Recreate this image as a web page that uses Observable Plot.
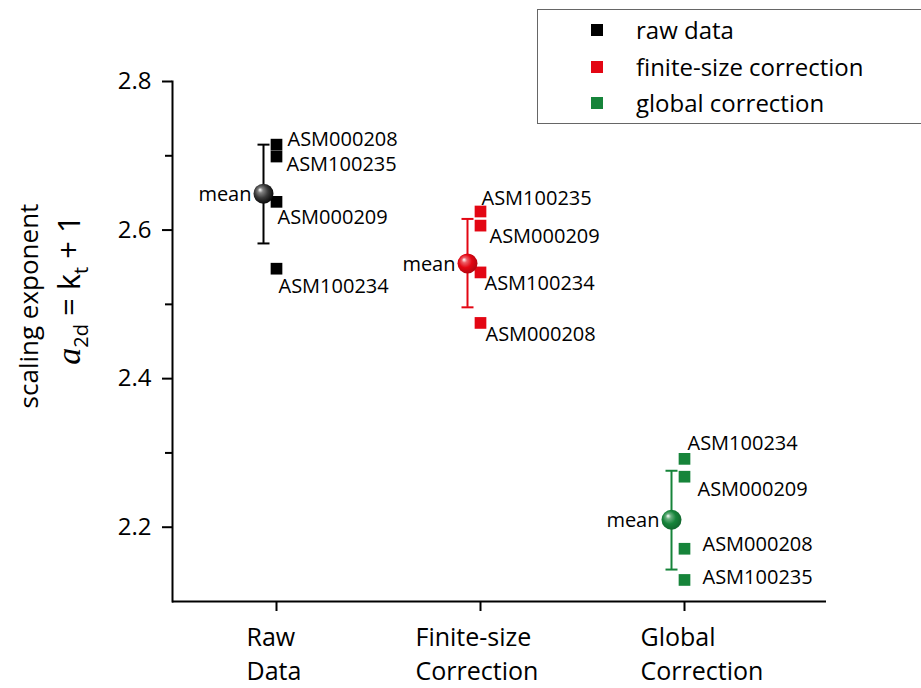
<!DOCTYPE html>
<html>
<head>
<meta charset="utf-8">
<script src="https://cdn.jsdelivr.net/npm/d3@7"></script>
<script src="https://cdn.jsdelivr.net/npm/@observablehq/plot@0.6"></script>
<style>
  html, body { margin: 0; padding: 0; background: #fff; }
  body { font-family: "Open Sans", sans-serif; }
  #wrap { position: relative; width: 921px; height: 688px; overflow: hidden; }
  #legend { position: absolute; left: 537px; top: 9px; width: 420px; height: 115px;
            border: 1.5px solid #666; border-right: none; box-sizing: border-box; background: #fff; }
  .item { position: absolute; left: 0; height: 36px; width: 400px; }
  .sw { position: absolute; left: 53px; width: 12px; height: 12px; top: 12px; }
  .lab { position: absolute; left: 98px; top: 0; line-height: 36px; font-size: 24px; color: #000; white-space: nowrap; }
</style>
</head>
<body>
<div id="wrap"></div>
<script>
// ---------- data ----------
const categories = ["Raw\nData", "Finite-size\nCorrection", "Global\nCorrection"];
const seriesNames = ["raw data", "finite-size correction", "global correction"];
const seriesColors = ["#000000", "#e30613", "#16843a"];

const rawIds = ["ASM000208", "ASM100235", "ASM000209", "ASM100234"];
const rawValues = [2.715, 2.699, 2.638, 2.548];

const finiteIds = ["ASM100235", "ASM000209", "ASM100234", "ASM000208"];
const finiteValues = [2.625, 2.606, 2.543, 2.475];

const globalIds = ["ASM100234", "ASM000209", "ASM000208", "ASM100235"];
const globalValues = [2.292, 2.268, 2.171, 2.129];

const meanValues = [2.649, 2.555, 2.210];
const errLower = [2.582, 2.496, 2.143];
const errUpper = [2.715, 2.615, 2.276];

const yMajorTicks = [2.2, 2.4, 2.6, 2.8];
const yMinorTicks = [2.3, 2.5, 2.7];
const yDomain = [2.1, 2.8];

// annotation layout: label offsets (px) from each square, and category label shifts
const labelOffsets = [
  [[11, -5], [10, 8], [1, 16], [2, 18]],
  [[1, -13], [9, 11], [4, 11], [5, 12]],
  [[3, -15], [13, 13], [18, -4], [18, -2]]
];
const categoryLabelDx = [-30, -65, -44];

// ---------- tables ----------
const groups = [
  {ids: rawIds, values: rawValues},
  {ids: finiteIds, values: finiteValues},
  {ids: globalIds, values: globalValues}
];
const points = groups.flatMap((g, i) => g.ids.map((id, j) => ({
  category: categories[i], series: seriesNames[i], id, value: g.values[j],
  ldx: labelOffsets[i][j][0], ldy: labelOffsets[i][j][1]
})));
const stats = categories.map((c, i) => ({
  category: c, series: seriesNames[i], mean: meanValues[i], lo: errLower[i], hi: errUpper[i]
}));

const capSymbol = {
  draw(context, size) {
    const w = Math.sqrt(size / Math.PI);
    context.moveTo(-w, 0);
    context.lineTo(w, 0);
  }
};

const svg = Plot.plot({
  width: 921,
  height: 688,
  marginLeft: 172,
  marginTop: 81,
  marginBottom: 87,
  marginRight: 95,
  style: {fontFamily: "Open Sans", color: "#000", background: "#fff", overflow: "visible"},
  x: {type: "point", domain: categories, range: [275, 684], padding: 0, label: null},
  y: {domain: yDomain, label: null},
  color: {domain: seriesNames, range: seriesColors},
  marks: [
    Plot.axisY({ticks: yMajorTicks, tickSize: 10, tickPadding: 11, fontSize: 24, strokeWidth: 2,
                tickFormat: d => d.toFixed(1), label: null}),
    Plot.axisY({ticks: yMinorTicks, tickSize: 7, strokeWidth: 2, tickFormat: () => "", label: null}),
    Plot.axisX({tickSize: 10, strokeWidth: 2, tickFormat: () => "", label: null}),
    ...categories.map((c, i) => Plot.axisX({ticks: [c], tickSize: 0, tickPadding: 20, fontSize: 25,
                lineHeight: 1.38, textAnchor: "start", dx: categoryLabelDx[i], label: null})),
    Plot.frame({anchor: "left", strokeWidth: 2}),
    Plot.ruleY([yDomain[0]], {strokeWidth: 2}),
    Plot.ruleX(stats, {x: "category", y1: "lo", y2: "hi", stroke: "series", strokeWidth: 2, dx: -13}),
    Plot.dot(stats, {x: "category", y: "lo", symbol: capSymbol, r: 6, stroke: "series", strokeWidth: 2, dx: -13}),
    Plot.dot(stats, {x: "category", y: "hi", symbol: capSymbol, r: 6, stroke: "series", strokeWidth: 2, dx: -13}),
    Plot.dot(points, {x: "category", y: "value", symbol: "square", r: 6.6, fill: "series"}),
    ...stats.map((s, i) => Plot.dot([s], {x: "category", y: "mean", r: 10, fill: `url(#sphere${i})`, dx: -13})),
    Plot.text(stats, {x: "category", y: "mean", text: () => "mean", textAnchor: "end", dx: -25, dy: 1, fontSize: 20}),
    ...points.map(p => Plot.text([p], {x: "category", y: "value", text: "id", textAnchor: "start",
                                       dx: p.ldx, dy: p.ldy, fontSize: 20}))
  ]
});

// gradients for glossy mean spheres
const defs = d3.select(svg).insert("defs", ":first-child");
seriesColors.forEach((c, i) => {
  const g = defs.append("radialGradient").attr("id", "sphere" + i)
    .attr("cx", "45%").attr("cy", "45%").attr("r", "60%").attr("fx", "32%").attr("fy", "30%");
  const base = d3.color(c);
  const mid = i === 0 ? "#3a3a3a" : base.formatHex();
  g.append("stop").attr("offset", "0%").attr("stop-color", "#ffffff");
  g.append("stop").attr("offset", "22%").attr("stop-color", d3.interpolateRgb(mid, "#fff")(0.35));
  g.append("stop").attr("offset", "55%").attr("stop-color", mid);
  g.append("stop").attr("offset", "100%").attr("stop-color", i === 0 ? "#000" : base.darker(0.8).formatHex());
});

// y-axis title
const yt = d3.select(svg).append("g")
  .attr("font-family", "Open Sans").attr("fill", "#000");
yt.append("text")
  .attr("transform", "translate(38,306) rotate(-90)")
  .attr("text-anchor", "middle").attr("font-size", 26)
  .text("scaling exponent");
const t2 = yt.append("text")
  .attr("transform", "translate(80,290) rotate(-90)")
  .attr("text-anchor", "middle").attr("font-size", 31);
t2.append("tspan").attr("font-family", "Liberation Serif").attr("font-style", "italic").attr("font-size", 34).text("a");
t2.append("tspan").attr("font-size", 20).attr("dy", 8).text("2d");
t2.append("tspan").attr("dy", -8).text(" = k");
t2.append("tspan").attr("font-size", 20).attr("dy", 8).text("t");
t2.append("tspan").attr("dy", -8).text(" + 1");

const wrap = document.getElementById("wrap");
wrap.appendChild(svg);

// legend
const legend = document.createElement("div");
legend.id = "legend";
seriesNames.forEach((name, i) => {
  const item = document.createElement("div");
  item.className = "item";
  item.style.top = (2 + i * 36.5) + "px";
  const sw = document.createElement("div");
  sw.className = "sw";
  sw.style.background = seriesColors[i];
  const lab = document.createElement("div");
  lab.className = "lab";
  lab.textContent = name;
  item.appendChild(sw);
  item.appendChild(lab);
  legend.appendChild(item);
});
wrap.appendChild(legend);
</script>
</body>
</html>
